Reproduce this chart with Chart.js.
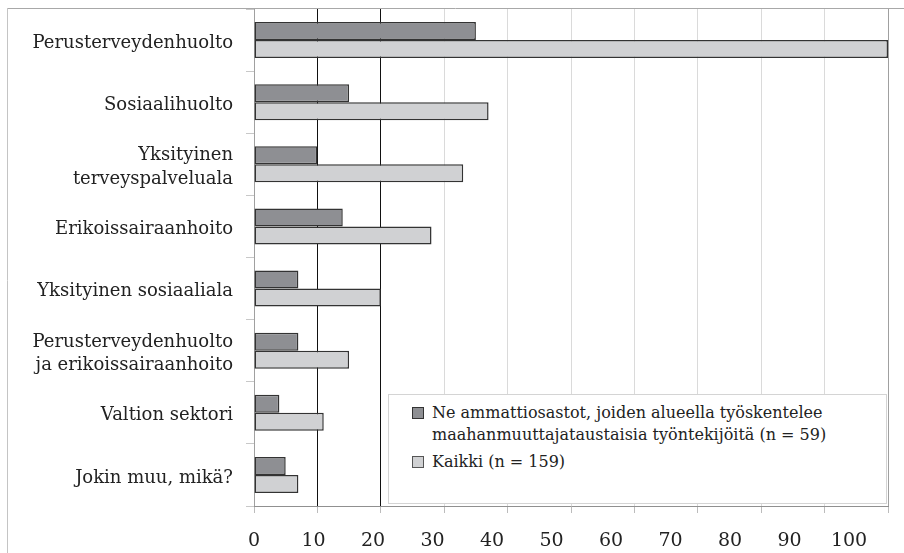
<!DOCTYPE html>
<html lang="fi">
<head>
    <meta charset="UTF-8">
    <title>Toimiala</title>
    <style>
        body {
            margin: 0;
            padding: 0;
            background: #ffffff;
            font-family: "DejaVu Serif", serif;
        }

        #wrap {
            position: relative;
            width: 904px;
            height: 553px;
        }

        #legend {
            position: absolute;
            left: 388px;
            top: 394px;
            width: 499px;
            height: 110px;
            box-sizing: border-box;
            border: 1px solid #d4d4d4;
            background: #ffffff;
            padding: 7px 0 0 23px;
            font-size: 16px;
            line-height: 22px;
            color: #222222;
        }

        .item {
            position: relative;
            padding-left: 20px;
            margin-bottom: 5px;
        }

        .box {
            position: absolute;
            left: 0;
            top: 5px;
            width: 10px;
            height: 10px;
            border: 1px solid #333333;
        }
    </style>
</head>
<body>
<div id="wrap">
    <canvas id="chart" width="904" height="553"></canvas>
    <div id="legend"></div>
</div>

<script src="https://cdn.jsdelivr.net/npm/chart.js"></script>
<script>
    var categories = [
        'Perusterveydenhuolto',
        'Sosiaalihuolto',
        ['Yksityinen', 'terveyspalveluala'],
        'Erikoissairaanhoito',
        'Yksityinen sosiaaliala',
        ['Perusterveydenhuolto', 'ja erikoissairaanhoito'],
        'Valtion sektori',
        'Jokin muu, mikä?'
    ];
    var seriesLines = [
        ['Ne ammattiosastot, joiden alueella työskentelee', 'maahanmuuttajataustaisia työntekijöitä (n = 59)'],
        ['Kaikki (n = 159)']
    ];
    var unionValues = [35, 15, 10, 14, 7, 7, 4, 5];
    var allValues = [100, 37, 33, 28, 20, 15, 11, 7];
    var xTickLabels = ['0', '10', '20', '30', '40', '50', '60', '70', '80', '90', '100'];

    var fills = ['#8e8f93', '#d0d1d3'];
    var boxBorders = ['#333333', '#555555'];
    var textColor = '#222222';
    var serif = "'DejaVu Serif', 'Liberation Serif', serif";

    // outer frame lines of the original figure
    var framePlugin = {
        id: 'frame',
        beforeDraw: function (chart) {
            var ctx = chart.ctx;
            ctx.save();
            ctx.strokeStyle = '#a8a8a8';
            ctx.lineWidth = 1;
            ctx.beginPath();
            ctx.moveTo(7, 8.5);
            ctx.lineTo(904, 8.5);
            ctx.stroke();
            ctx.strokeStyle = '#c4c4c4';
            ctx.beginPath();
            ctx.moveTo(7.5, 8);
            ctx.lineTo(7.5, 553);
            ctx.stroke();
            ctx.restore();
        }
    };

    var ctx = document.getElementById('chart').getContext('2d');
    var chart = new Chart(ctx, {
        type: 'bar',
        data: {
            labels: categories,
            datasets: seriesLines.map(function (lines, i) {
                return {
                    label: lines.join(' '),
                    data: i === 0 ? unionValues : allValues,
                    backgroundColor: fills[i],
                    borderColor: '#333333',
                    borderWidth: 1.5,
                    borderSkipped: false,
                    categoryPercentage: 0.58,
                    barPercentage: 1.0
                };
            })
        },
        options: {
            responsive: false,
            animation: false,
            indexAxis: 'y',
            devicePixelRatio: 1,
            layout: {
                padding: {top: 9, right: 16, left: 0, bottom: 0}
            },
            plugins: {
                legend: {display: false},
                tooltip: {enabled: false}
            },
            scales: {
                y: {
                    position: 'left',
                    afterFit: function (scale) {
                        scale.width = 254;
                        scale.paddingTop = 0;
                        scale.paddingBottom = 0;
                    },
                    grid: {
                        offset: true,
                        drawOnChartArea: false,
                        drawTicks: true,
                        tickLength: 8,
                        color: '#c8c8c8'
                    },
                    border: {color: '#a0a0a0'},
                    ticks: {
                        padding: 13,
                        labelOffset: 3,
                        color: textColor,
                        font: {family: serif, size: 18, lineHeight: 1.3},
                        autoSkip: false
                    }
                },
                x: {
                    position: 'bottom',
                    weight: 0,
                    min: 0,
                    max: 100,
                    afterFit: function (scale) {
                        scale.height = 8;
                        scale.paddingLeft = 0;
                        scale.paddingRight = 0;
                    },
                    grid: {
                        color: function (c) {
                            var v = c.tick ? c.tick.value : 0;
                            if (v === 10 || v === 20) return '#111111';
                            if (v === 0 || v === 100) return '#a0a0a0';
                            return '#dadada';
                        },
                        tickColor: '#bcbcbc',
                        tickLength: 7
                    },
                    border: {color: '#909090'},
                    ticks: {
                        stepSize: 10,
                        display: false
                    }
                },
                // tick labels of the picture sit a little tighter than its gridlines
                xl: {
                    type: 'linear',
                    position: 'bottom',
                    weight: 1,
                    min: 0,
                    max: 106.55,
                    afterBuildTicks: function (scale) {
                        scale.ticks = xTickLabels.map(function (t) {
                            return {value: Number(t)};
                        });
                    },
                    afterFit: function (scale) {
                        scale.height = 39;
                        scale.paddingLeft = 0;
                        scale.paddingRight = 0;
                    },
                    grid: {display: false},
                    border: {display: false},
                    ticks: {
                        maxRotation: 0,
                        autoSkip: false,
                        padding: 8,
                        color: textColor,
                        font: {family: serif, size: 19}
                    }
                }
            }
        },
        plugins: [framePlugin]
    });

    // legend inside the plot, built from the datasets
    var legend = document.getElementById('legend');
    seriesLines.forEach(function (lines, i) {
        var item = document.createElement('div');
        item.className = 'item';
        var box = document.createElement('span');
        box.className = 'box';
        box.style.background = fills[i];
        box.style.borderColor = boxBorders[i];
        item.appendChild(box);
        lines.forEach(function (line, j) {
            if (j > 0) item.appendChild(document.createElement('br'));
            item.appendChild(document.createTextNode(line));
        });
        legend.appendChild(item);
    });
</script>
</body>
</html>
